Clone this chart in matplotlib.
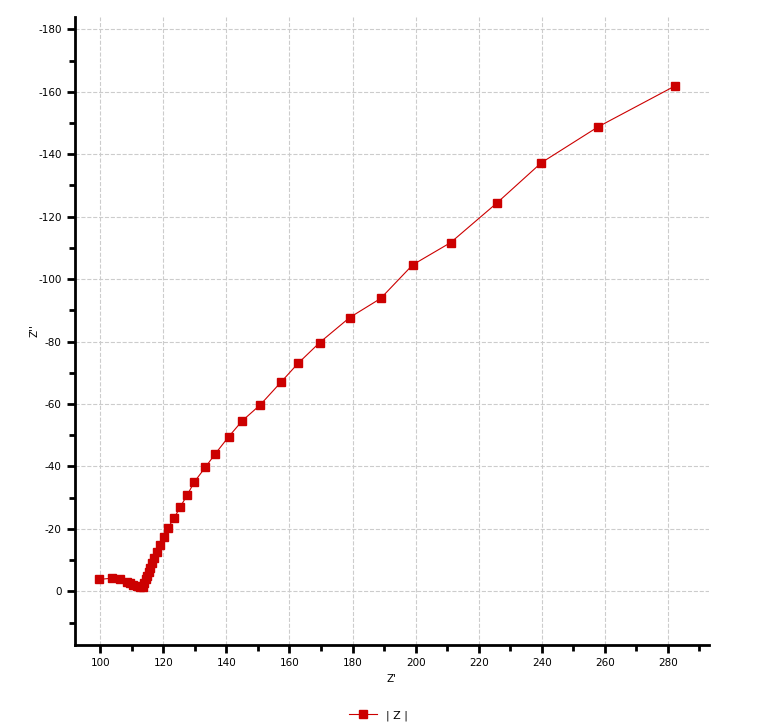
import matplotlib
matplotlib.use("Agg")
from matplotlib import pyplot as plt
from matplotlib.ticker import MultipleLocator

plt.rcParams["axes.unicode_minus"] = False

z_real = [99.5, 103.6, 106.3, 108.4, 109.5, 110.5, 111.6, 112.7, 113.5, 114.0,
          114.5, 114.9, 115.3, 115.8, 116.4, 116.9, 118.1, 119.1, 120.3, 121.5,
          123.5, 125.4, 127.6, 129.8, 133.3, 136.5, 140.7, 145.0, 150.7, 157.4,
          162.7, 169.6, 179.1, 188.9, 199.1, 211.1, 225.9, 239.9, 257.9, 282.3]
z_imag = [-3.8, -4.2, -3.8, -3.1, -2.7, -2.1, -1.7, -1.4, -1.3, -2.6,
          -3.8, -4.9, -6.2, -7.6, -9.0, -10.6, -12.7, -14.9, -17.5, -20.4,
          -23.6, -27.1, -30.9, -35.0, -39.7, -44.1, -49.5, -54.6, -59.7, -67.1,
          -73.0, -79.7, -87.7, -93.8, -104.6, -111.7, -124.5, -137.3, -148.8, -161.9]

red = "#cc0000"

fig = plt.figure(figsize=(7.72, 7.22), dpi=100)
ax = fig.add_axes([0.0972, 0.1066, 0.821, 0.870])

ax.plot(z_real, z_imag, color=red, linewidth=0.8, marker="s",
        markersize=5.2, markerfacecolor=red, markeredgecolor=red, label="| Z |")

ax.set_xlim(92, 293)
ax.set_ylim(17.2, -184)

ax.xaxis.set_major_locator(MultipleLocator(20))
ax.xaxis.set_minor_locator(MultipleLocator(10))
ax.yaxis.set_major_locator(MultipleLocator(20))
ax.yaxis.set_minor_locator(MultipleLocator(10))

ax.grid(True, which="major", color="#cccccc", linestyle="--", linewidth=0.8)
ax.set_axisbelow(True)

for s in ["top", "right"]:
    ax.spines[s].set_visible(False)
for s in ["left", "bottom"]:
    ax.spines[s].set_linewidth(2)

ax.tick_params(which="major", direction="out", length=6, width=2, labelsize=7.5)
ax.tick_params(which="minor", direction="out", length=4, width=2)

ax.set_xlabel("Z'", fontsize=7.5, labelpad=4)
ax.set_ylabel("Z''", fontsize=7.5, labelpad=-1)

fig.legend(loc="lower center", bbox_to_anchor=(0.49, -0.012), frameon=False,
           fontsize=8, handlelength=2.5)

fig.savefig("out.png", dpi=100)
